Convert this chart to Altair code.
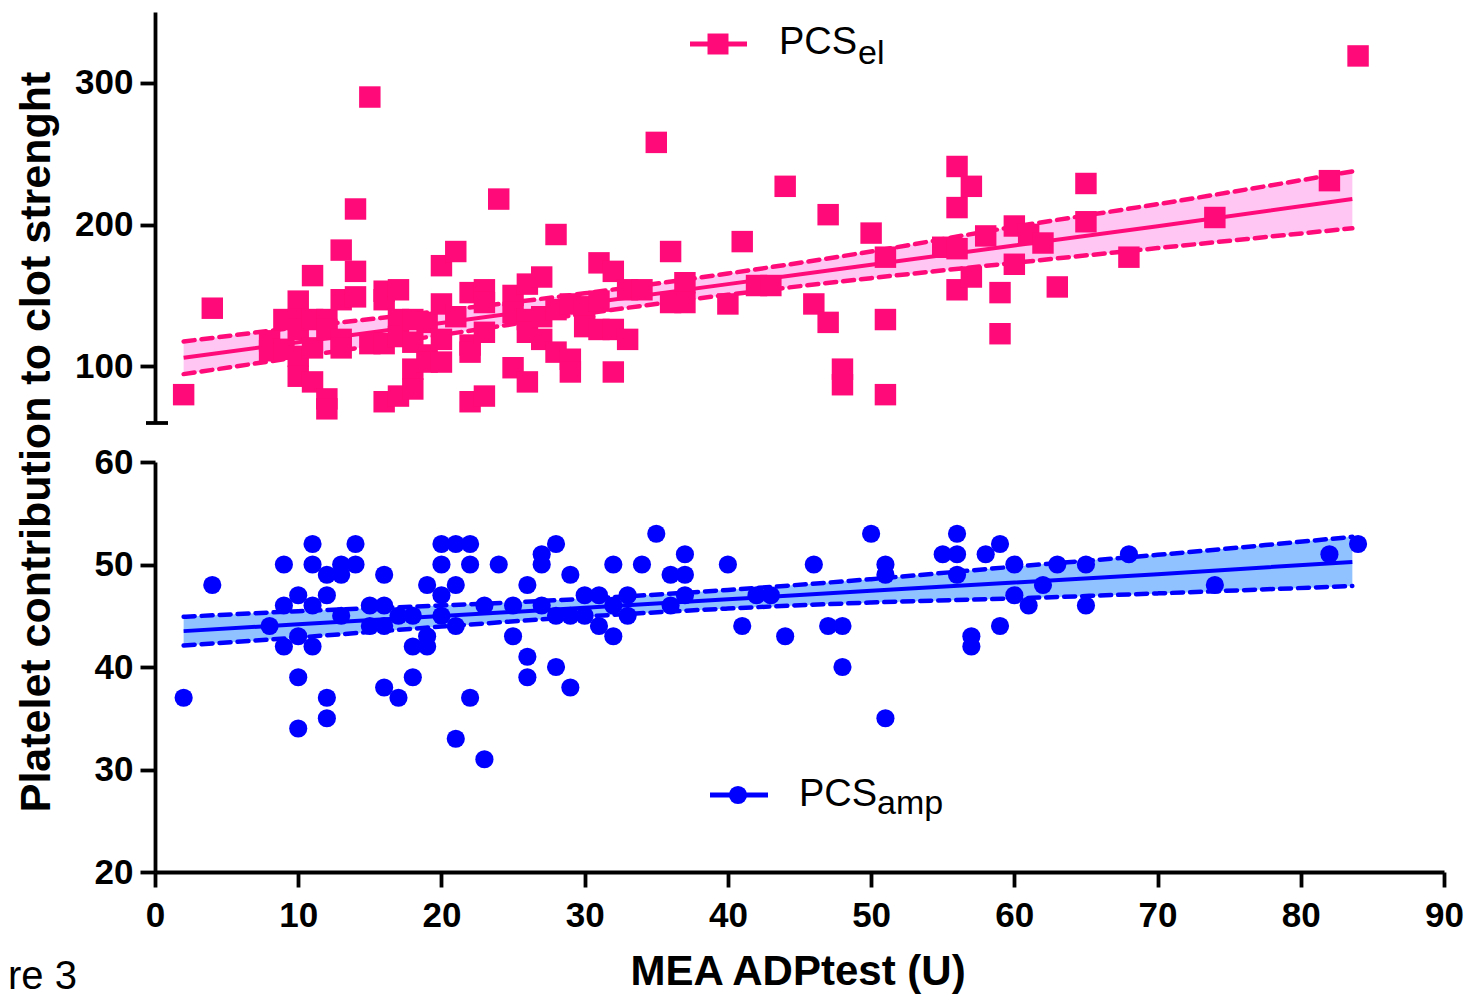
import altair as alt
import pandas as pd

# ---------------- data ----------------
# PCS_el (squares, upper panel): MEA ADPtest value -> list of PCS_el values
pink_by_x = {
    2: [80], 4: [141], 8: [118, 111], 9: [133, 112],
    10: [146, 133, 126, 107, 93], 11: [164, 133, 113, 89],
    12: [133, 126, 77, 70], 13: [182, 147, 119, 113], 14: [211, 167, 149],
    15: [290, 116], 16: [153, 147, 116, 75], 17: [154, 133, 121, 79],
    18: [133, 117, 98, 84], 19: [131, 108, 103], 20: [171, 144, 119, 103],
    21: [181, 135], 22: [152, 115, 110, 75], 23: [154, 145, 124, 79],
    24: [218], 25: [150, 138, 99], 26: [158, 133, 124, 89],
    27: [163, 135, 119], 28: [193, 140, 110], 29: [144, 105, 96],
    30: [142, 128], 31: [173, 146, 126], 32: [167, 126, 96], 33: [154, 119],
    34: [154], 35: [258], 36: [181, 145], 37: [159, 145], 40: [144],
    41: [188], 42: [157], 43: [157], 44: [227], 46: [144], 47: [207, 131],
    48: [98, 87], 50: [194], 51: [177, 133, 80], 55: [184],
    56: [241, 212, 183, 154], 57: [227, 163], 58: [192], 59: [152, 123],
    60: [199, 172], 61: [193], 62: [187], 63: [156], 65: [229, 202],
    68: [177], 74: [205], 82: [231], 84: [319],
}

# PCS_amp (circles, lower panel)
blue_by_x = {
    2: [37], 4: [48], 8: [44], 9: [50, 46, 42], 10: [47, 39, 34, 43],
    11: [52, 50, 46, 42], 12: [49, 47, 37, 35], 13: [50, 49, 45],
    14: [52, 50], 15: [46, 44], 16: [49, 46, 44, 38], 17: [37, 45],
    18: [45, 42, 39], 19: [48, 43, 42], 20: [52, 50, 47, 45],
    21: [52, 48, 44, 33], 22: [52, 50, 37], 23: [46, 31], 24: [50],
    25: [46, 43], 26: [48, 41, 39], 27: [51, 46, 50], 28: [52, 45, 40],
    29: [49, 45, 38], 30: [47, 45], 31: [47, 44], 32: [50, 43, 46],
    33: [47, 45], 34: [50], 35: [53], 36: [49, 46], 37: [51, 49, 47],
    40: [50], 41: [44], 42: [47], 43: [47], 44: [43], 46: [50], 47: [44],
    48: [44, 40], 50: [53], 51: [50, 49, 35], 55: [51], 56: [53, 51, 49],
    57: [43, 42], 58: [51], 59: [52, 44], 60: [50, 47], 61: [46], 62: [48],
    63: [50], 65: [50, 46], 68: [51], 74: [48], 82: [51], 84: [52],
}

# regression lines and 95% confidence bands
fit_x = [2, 10, 20, 30, 40, 50, 60, 70, 83.6]
pink_fit = [106.0, 117.0, 130.6, 144.3, 158.0, 171.6, 185.3, 198.9, 218.0]
pink_lo = [94.5, 106.5, 122.1, 137.1, 150.5, 162.2, 173.0, 183.4, 197.4]
pink_hi = [117.5, 127.5, 139.1, 151.5, 165.5, 181.0, 198.5, 214.4, 237.5]
blue_fit = [43.5, 44.16, 44.97, 45.79, 46.61, 47.43, 48.24, 49.06, 50.25]
blue_lo = [42.1, 42.88, 43.94, 44.92, 45.70, 46.29, 46.69, 47.18, 47.9]
blue_hi = [44.9, 45.44, 46.00, 46.66, 47.52, 48.57, 49.79, 50.94, 52.7]

x_ticks = [0, 10, 20, 30, 40, 50, 60, 70, 80, 90]
upper_ticks = [100, 200, 300]
lower_ticks = [20, 30, 40, 50, 60]

y_title = "Platelet contribution to clot strenght"
x_title = "MEA ADPtest (U)"
fig_label = "re 3"
pink_name, pink_sub = "PCS", "el"
blue_name, blue_sub = "PCS", "amp"

# ---------------- styling ----------------
PINK = "#FF0A78"
PINK_BAND = "#FFC6F4"
BLUE = "#0000FF"
BLUE_BAND = "#90C2FF"
FONT = "Liberation Sans"
W, H_UP, H_LOW = 1289, 411, 410

pink_df = pd.DataFrame(
    [(x, y) for x, ys in pink_by_x.items() for y in ys], columns=["x", "y"])
blue_df = pd.DataFrame(
    [(x, y) for x, ys in blue_by_x.items() for y in ys], columns=["x", "y"])
fit_df = pd.DataFrame({"x": fit_x, "pf": pink_fit, "plo": pink_lo, "phi": pink_hi,
                       "bf": blue_fit, "blo": blue_lo, "bhi": blue_hi})
one = pd.DataFrame({"a": [0]})

xscale = alt.Scale(domain=[0, 90], nice=False, zero=False)
yscale_up = alt.Scale(domain=[60, 350], nice=False, zero=False)
yscale_low = alt.Scale(domain=[20, 60], nice=False, zero=False)

axis_common = dict(domainColor="black", domainWidth=3.8, tickColor="black",
                   tickWidth=3.8, tickSize=15, labelFont=FONT, labelFontSize=35,
                   labelFontWeight="bold", labelColor="black", grid=False,
                   title=None, labelOverlap=False)
y_axis_up = alt.Axis(values=upper_ticks, labelPadding=7, **axis_common)
y_axis_low = alt.Axis(values=lower_ticks, labelPadding=7, **axis_common)
x_axis_low = alt.Axis(values=x_ticks, labelPadding=11, labelFlush=False, **axis_common)


def X(field, axis=None):
    return alt.X(f"{field}:Q", scale=xscale, axis=axis)


def YU(field):
    return alt.Y(f"{field}:Q", scale=yscale_up, axis=y_axis_up)


def YL(field):
    return alt.Y(f"{field}:Q", scale=yscale_low, axis=y_axis_low)


dash = dict(strokeWidth=4.5, strokeDash=[11, 7], strokeCap="round", interpolate="monotone")

# ---------------- upper panel ----------------
up_band = alt.Chart(fit_df).mark_area(color=PINK_BAND, opacity=1, interpolate="monotone").encode(
    x=X("x"), y=YU("plo"), y2="phi:Q")
up_lo = alt.Chart(fit_df).mark_line(color=PINK, **dash).encode(x=X("x"), y=YU("plo"))
up_hi = alt.Chart(fit_df).mark_line(color=PINK, **dash).encode(x=X("x"), y=YU("phi"))
up_fit = alt.Chart(fit_df).mark_line(color=PINK, strokeWidth=4).encode(x=X("x"), y=YU("pf"))
up_pts = alt.Chart(pink_df).mark_square(color=PINK, size=460, opacity=1).encode(
    x=X("x"), y=YU("y"))
up_cap = alt.Chart(one).mark_rule(color="black", strokeWidth=3.8).encode(
    x=alt.value(-9), x2=alt.value(13), y=alt.value(H_UP))
up_leg_line = alt.Chart(one).mark_rule(color=PINK, strokeWidth=5).encode(
    x=alt.value(535), x2=alt.value(592), y=alt.value(32))
up_leg_sym = alt.Chart(one).mark_square(color=PINK, size=440, opacity=1).encode(
    x=alt.value(563), y=alt.value(32))
up_leg_txt = alt.Chart(one).mark_text(font=FONT, fontSize=38, color="black", align="left",
                                      baseline="alphabetic", text=pink_name).encode(
    x=alt.value(624), y=alt.value(42))
up_leg_sub = alt.Chart(one).mark_text(font=FONT, fontSize=34, color="black", align="left",
                                      baseline="alphabetic", text=pink_sub).encode(
    x=alt.value(703), y=alt.value(52))

upper = alt.layer(up_band, up_lo, up_hi, up_fit, up_pts, up_cap,
                  up_leg_line, up_leg_sym, up_leg_txt, up_leg_sub).properties(
    width=W, height=H_UP)

# ---------------- lower panel ----------------
lo_band = alt.Chart(fit_df).mark_area(color=BLUE_BAND, opacity=1, interpolate="monotone").encode(
    x=X("x", x_axis_low), y=YL("blo"), y2="bhi:Q")
lo_lo = alt.Chart(fit_df).mark_line(color=BLUE, **dash).encode(x=X("x", x_axis_low), y=YL("blo"))
lo_hi = alt.Chart(fit_df).mark_line(color=BLUE, **dash).encode(x=X("x", x_axis_low), y=YL("bhi"))
lo_fit = alt.Chart(fit_df).mark_line(color=BLUE, strokeWidth=4).encode(
    x=X("x", x_axis_low), y=YL("bf"))
lo_pts = alt.Chart(blue_df).mark_circle(color=BLUE, size=330, opacity=1).encode(
    x=X("x", x_axis_low), y=YL("y"))
lo_leg_line = alt.Chart(one).mark_rule(color=BLUE, strokeWidth=5).encode(
    x=alt.value(555), x2=alt.value(613), y=alt.value(333))
lo_leg_sym = alt.Chart(one).mark_circle(color=BLUE, size=330, opacity=1).encode(
    x=alt.value(583), y=alt.value(333))
lo_leg_txt = alt.Chart(one).mark_text(font=FONT, fontSize=38, color="black", align="left",
                                      baseline="alphabetic", text=blue_name).encode(
    x=alt.value(644), y=alt.value(344))
lo_leg_sub = alt.Chart(one).mark_text(font=FONT, fontSize=34, color="black", align="left",
                                      baseline="alphabetic", text=blue_sub).encode(
    x=alt.value(722), y=alt.value(352))
ytitle = alt.Chart(one).mark_text(font=FONT, fontSize=43, fontWeight="bold", color="black",
                                  angle=270, align="center", baseline="alphabetic",
                                  text=y_title).encode(x=alt.value(-105), y=alt.value(-20))
xtitle = alt.Chart(one).mark_text(font=FONT, fontSize=42, fontWeight="bold", color="black",
                                  align="center", baseline="alphabetic",
                                  text=x_title).encode(x=alt.value(643), y=alt.value(523))
figlab = alt.Chart(one).mark_text(font=FONT, fontSize=40, color="black", align="left",
                                  baseline="alphabetic", text=fig_label).encode(
    x=alt.value(-147), y=alt.value(527))

lower = alt.layer(lo_band, lo_lo, lo_hi, lo_fit, lo_pts, lo_leg_line, lo_leg_sym,
                  lo_leg_txt, lo_leg_sub, ytitle, xtitle, figlab).properties(
    width=W, height=H_LOW)

chart = alt.vconcat(upper, lower, spacing=39, bounds="flush").properties(
    padding={"left": 0, "top": 4, "right": 0, "bottom": 0},
    background="white",
).configure_view(stroke=None)

chart.save("out.html", embed_options={"renderer": "svg", "actions": False})
